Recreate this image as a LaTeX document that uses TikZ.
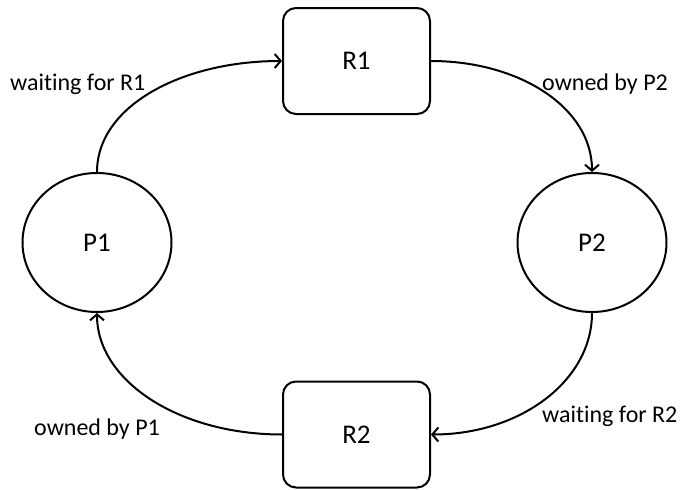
\documentclass[tikz,border=0pt]{standalone}
\usepackage{fontspec}
\setmainfont{Carlito}[Ligatures=NoCommon]
\usetikzlibrary{shapes.geometric,arrows.meta}
\begin{document}
\begin{tikzpicture}[x=1pt,y=1pt,
  proc/.style={draw, line width=2pt, ellipse, inner sep=0pt, minimum width=149pt, minimum height=139pt, font=\fontsize{27}{32}\selectfont},
  res/.style={draw, line width=2pt, rectangle, rounded corners=13pt, inner sep=0pt, minimum width=147pt, minimum height=106pt, font=\fontsize{27}{32}\selectfont},
  conn/.style={line width=2pt, -{Straight Barb[length=6pt,width=14pt,line width=2pt]}},
  lbl/.style={inner sep=0pt, anchor=base west, font=\fontsize{24}{28}\selectfont}]
\useasboundingbox (0,0) rectangle (686,-490);
\node[proc] (P1) at (97,-242.5) {P1};
\node[proc] (P2) at (592,-242.5) {P2};
\node[res] (R1) at (356.5,-61) {R1};
\node[res] (R2) at (356.5,-434.5) {R2};
\draw[conn] (P1.north) to[out=90,in=180,out distance=66pt,in distance=100pt] (R1.west);
\draw[conn] (R1.east) to[out=0,in=90,out distance=89pt,in distance=64pt] (P2.north);
\draw[conn] (P2.south) to[out=-90,in=0,out distance=68pt,in distance=89pt] (R2.east);
\draw[conn] (R2.west) to[out=180,in=-90,out distance=103pt,in distance=68pt] (P1.south);
\node[lbl] (l1) at (10,-90) {waiting for R1};
\node[lbl] (l2) at (542,-90) {owned by P2};
\node[lbl] (l3) at (542,-422) {waiting for R2};
\node[lbl] (l4) at (34,-435) {owned by P1};
\end{tikzpicture}
\end{document}
